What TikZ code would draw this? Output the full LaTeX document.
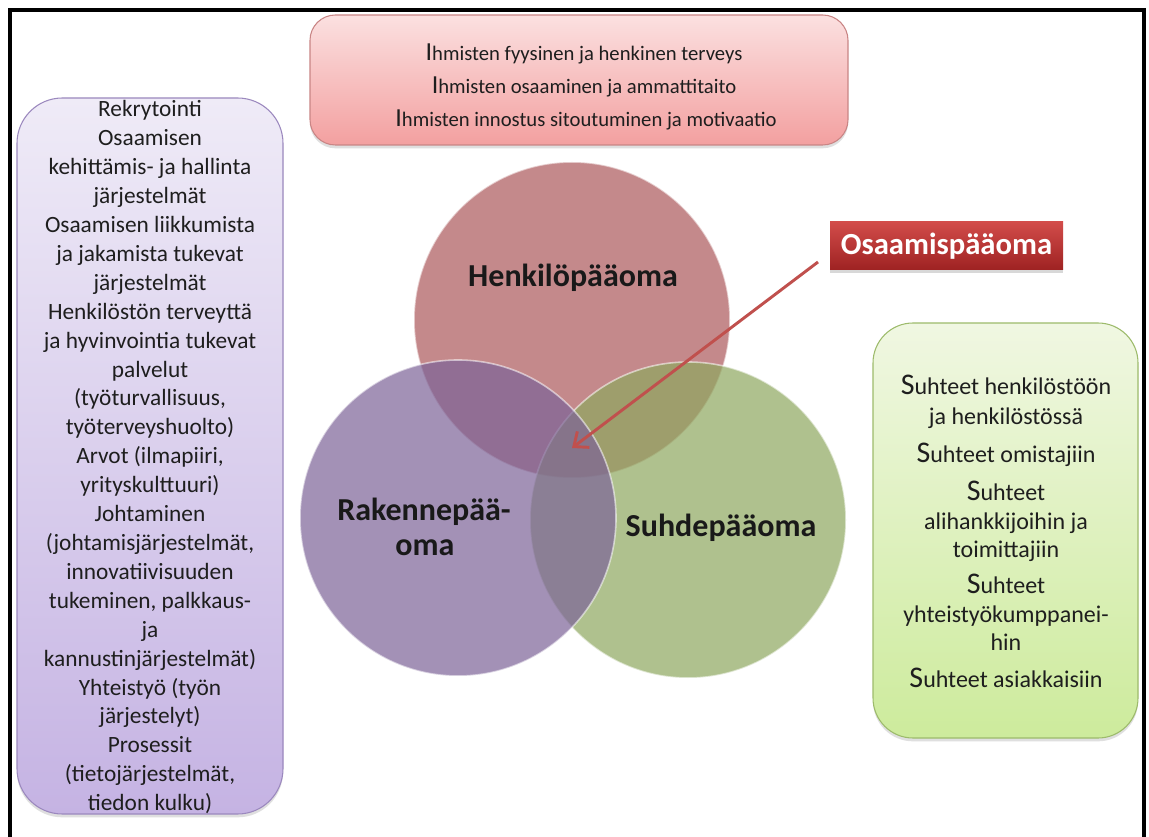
\documentclass[tikz,border=0pt]{standalone}
\usepackage{fontspec}
\setmainfont{Carlito}
\usetikzlibrary{arrows.meta,shadows}

\definecolor{txtcol}{HTML}{1E1E1E}
\definecolor{pinkTop}{HTML}{FBE0E0}
\definecolor{pinkBot}{HTML}{F3A0A0}
\definecolor{pinkDraw}{HTML}{C98585}
\definecolor{purTop}{HTML}{EFEBF7}
\definecolor{purBot}{HTML}{C5B3E3}
\definecolor{purDraw}{HTML}{9B88BE}
\definecolor{grnTop}{HTML}{F0F7E2}
\definecolor{grnBot}{HTML}{CDEB9C}
\definecolor{grnDraw}{HTML}{9DBB6B}
\definecolor{osaTop}{HTML}{D24C4A}
\definecolor{osaBot}{HTML}{9E2222}
\definecolor{henkC}{RGB}{172,88,91}
\definecolor{suhdC}{RGB}{142,168,95}
\definecolor{rakC}{RGB}{124,99,152}
\definecolor{arrowRed}{HTML}{C0504D}

% enlarged initial capitals
\newcommand\bigS{{\fontsize{22.5pt}{22.5pt}\selectfont S}}
\newcommand\bigI{{\fontsize{19.5pt}{19.5pt}\selectfont I}}

\begin{document}
\begin{tikzpicture}[x=0.75pt,y=-0.75pt,
  every node/.style={inner sep=0pt,outer sep=0pt},
  infobox/.style={rectangle,line width=0.8pt,
    drop shadow={shadow xshift=0pt,shadow yshift=-2.5pt,opacity=0.25}},
  venn/.style={circle,minimum size=237pt,fill opacity=0.7,
    draw=white,draw opacity=0.55,line width=1.2pt},
  vennlabel/.style={font=\fontsize{24pt}{27pt}\selectfont\bfseries,text=black!90,anchor=base},
  lefttxt/.style={font=\fontsize{17.5pt}{21pt}\selectfont,text=txtcol,anchor=base},
  righttxt/.style={font=\fontsize{18pt}{21pt}\selectfont,text=txtcol,anchor=base},
  toptxt/.style={font=\fontsize{15.5pt}{18pt}\selectfont,text=txtcol,anchor=base},
  pointer/.style={draw=arrowRed,line width=2.2pt,
    -{Straight Barb[length=9pt,width=15pt,line width=2.2pt]}}
]
\useasboundingbox (0,0) rectangle (1149,837);
\fill[white] (0,0) rectangle (1149,837);

% black frame, open at the bottom
\draw[line width=3pt] (10,837) -- (10,10) -- (1143.5,10) -- (1143.5,837);

% three overlapping circles
\node[venn,fill=henkC] (henk) at (572,320) {};
\node[venn,fill=suhdC] (suhd) at (688,520) {};
\node[venn,fill=rakC]  (rak)  at (458,518) {};

% circle labels
\node[vennlabel] (henkL) at (573,287) {Henkilöpääoma};
\node[vennlabel] (rakL1) at (424,520) {Rakennepää-};
\node[vennlabel] (rakL2) at (425,555) {oma};
\node[vennlabel] (suhdL) at (721,537) {Suhdepääoma};

% top box
\node[infobox,rounded corners=19pt,minimum width=403.5pt,minimum height=97.5pt,
  top color=pinkTop,bottom color=pinkBot,draw=pinkDraw] (topbox) at (579,80) {};
\node[toptxt] (t1) at (584,61) {\bigI hmisten fyysinen ja henkinen terveys};
\node[toptxt] (t2) at (584,94) {\bigI hmisten osaaminen ja ammattitaito};
\node[toptxt] (t3) at (586,127) {\bigI hmisten innostus sitoutuminen ja motivaatio};

% left box
\node[infobox,rounded corners=34pt,minimum width=199.5pt,minimum height=537pt,
  top color=purTop,bottom color=purBot,draw=purDraw] (leftbox) at (150,456) {};
\foreach \t [count=\i] in {Rekrytointi,Osaamisen,kehittämis- ja hallinta,järjestelmät,
  Osaamisen liikkumista,ja jakamista tukevat,järjestelmät,Henkilöstön terveyttä,
  ja hyvinvointia tukevat,palvelut,{(työturvallisuus,},työterveyshuolto),
  {Arvot (ilmapiiri,},yrityskulttuuri),Johtaminen,{(johtamisjärjestelmät,},
  innovatiivisuuden,{tukeminen,  palkkaus-},ja,kannustinjärjestelmät),
  Yhteistyö (työn,järjestelyt),Prosessit,{(tietojärjestelmät,},tiedon kulku)}
  \node[lefttxt] (lt\i) at (150,{117+28.9*(\i-1)}) {\t};

% right box
\node[infobox,rounded corners=30pt,minimum width=198.75pt,minimum height=311.25pt,
  top color=grnTop,bottom color=grnBot,draw=grnDraw] (rightbox) at (1005.5,530.5) {};
\foreach \y/\t [count=\i] in {395/{\bigS uhteet henkilöstöön},425/{ja henkilöstössä},
  463/{\bigS uhteet omistajiin},500/{\bigS uhteet},529/{alihankkijoihin ja},
  557/{toimittajiin},593/{\bigS uhteet},622/{yhteistyökumppanei-},650/{hin},
  687/{\bigS uhteet asiakkaisiin}}
  \node[righttxt] (rt\i) at (1006,\y) {\t};

% label box and pointer
\node[rectangle,minimum width=174.75pt,minimum height=36pt,
  top color=osaTop,bottom color=osaBot,
  drop shadow={shadow xshift=0pt,shadow yshift=-2.5pt,opacity=0.3},
  font=\fontsize{23pt}{25pt}\selectfont\bfseries,text=white] (osa) at (946.5,246) {Osaamispääoma};
\coordinate (astart) at (818,262);
\coordinate (atip) at (572,448);
\draw[pointer] (astart) -- (atip);
\end{tikzpicture}
\end{document}
